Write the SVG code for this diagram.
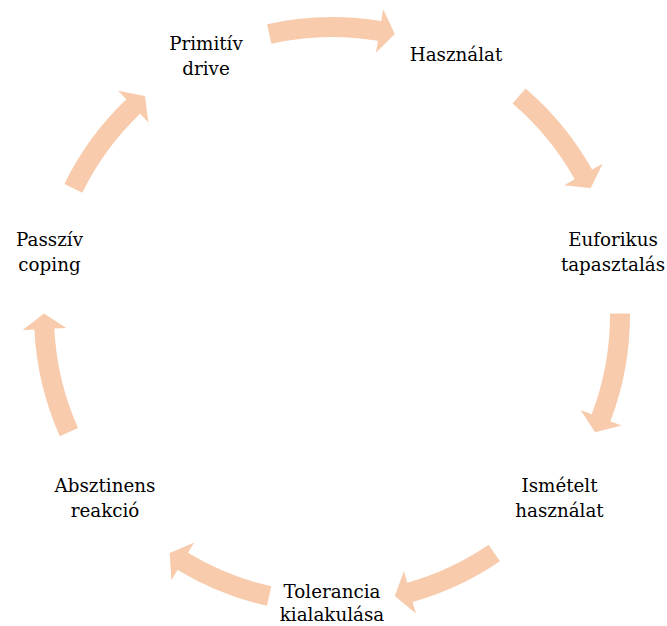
<svg xmlns="http://www.w3.org/2000/svg" width="667" height="626" viewBox="0 0 667 626">
<style>
.arr{fill:#F8CBAD;stroke:none}
text{font-family:"DejaVu Serif",serif;font-size:18.3px;fill:#000;text-anchor:middle}
</style>
<rect width="667" height="626" fill="#fff"/>
<g id="connectors">
<path class="arr" d="M266.99,24.18 A298,298 0 0 1 381.18,21.09 L383.17,9.25 L394.82,33.93 L375.90,52.65 L377.88,40.81 A278,278 0 0 0 271.36,43.69 Z"/>
<path class="arr" d="M525.54,88.40 A298,298 0 0 1 592.13,169.62 L602.61,163.76 L590.63,188.30 L564.20,185.23 L574.67,179.37 A278,278 0 0 0 512.55,103.61 Z"/>
<path class="arr" d="M629.99,313.44 A298,298 0 0 1 610.39,421.31 L621.60,425.59 L595.10,432.14 L580.50,409.89 L591.71,414.17 A278,278 0 0 0 609.99,313.54 Z"/>
<path class="arr" d="M499.93,561.18 A298,298 0 0 1 412.64,601.88 L415.89,613.43 L394.82,596.07 L403.98,571.08 L407.23,582.63 A278,278 0 0 0 488.66,544.66 Z"/>
<path class="arr" d="M266.99,605.82 A298,298 0 0 1 177.63,569.90 L171.41,580.16 L169.70,552.92 L194.20,542.53 L187.99,552.79 A278,278 0 0 0 271.36,586.31 Z"/>
<path class="arr" d="M59.76,436.21 A298,298 0 0 1 34.35,329.56 L22.37,330.14 L44.00,313.49 L66.32,327.99 L54.33,328.58 A278,278 0 0 0 78.03,428.07 Z"/>
<path class="arr" d="M64.39,183.90 A298,298 0 0 1 126.36,99.32 L118.08,90.63 L144.96,96.00 L148.44,122.48 L140.16,113.79 A278,278 0 0 0 82.35,192.70 Z"/>
</g>
<g id="node-primitiv"><text x="206" y="50">Primitív</text><text x="206" y="75">drive</text></g>
<g id="node-hasznalat"><text x="456" y="61">Használat</text></g>
<g id="node-euforikus"><text x="613" y="246">Euforikus</text><text x="613" y="271">tapasztalás</text></g>
<g id="node-ismetelt"><text x="559.5" y="491.5">Ismételt</text><text x="559.5" y="516.5">használat</text></g>
<g id="node-tolerancia"><text x="332" y="598">Tolerancia</text><text x="332" y="621">kialakulása</text></g>
<g id="node-absztinens"><text x="105" y="491.5">Absztinens</text><text x="105" y="516.5">reakció</text></g>
<g id="node-passziv"><text x="49.5" y="246">Passzív</text><text x="49.5" y="271">coping</text></g>
</svg>
